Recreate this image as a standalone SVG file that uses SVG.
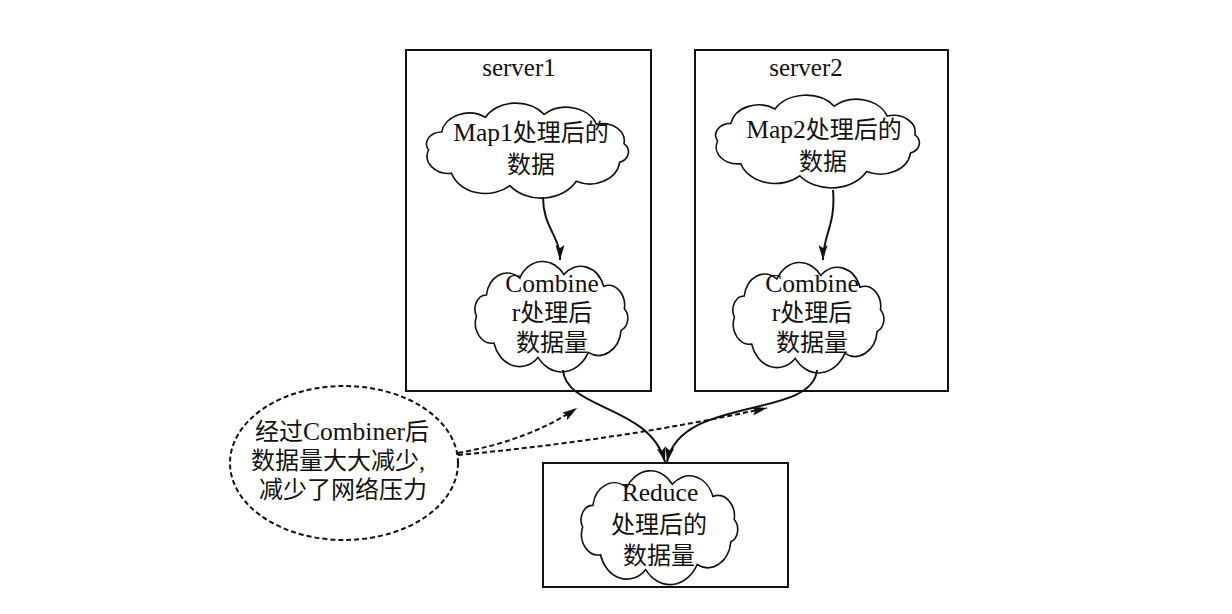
<svg xmlns="http://www.w3.org/2000/svg" width="1232" height="614" viewBox="0 0 1232 614">
<style>
.box{fill:none;stroke:#111;stroke-width:2}
.cloud{fill:#fff;stroke:#111;stroke-width:1.6}
.t{font-family:"Liberation Serif","Noto Sans CJK SC",serif;font-size:24px;fill:#111;text-anchor:middle}
.l{font-size:25.5px}
.lbl{font-family:"Liberation Serif","Noto Sans CJK SC",serif;font-size:25px;fill:#111;text-anchor:middle}
.edge{fill:none;stroke:#111;stroke-width:2}
.dash{fill:none;stroke:#111;stroke-width:2;stroke-dasharray:5 3}
</style>
<defs>
<marker id="ah" markerUnits="userSpaceOnUse" markerWidth="16" markerHeight="10" refX="15" refY="4.5" orient="auto">
<path d="M0,0 L15,4.5 L0,9 L3,4.5 z" fill="#111"/>
</marker>
<path id="cl" vector-effect="non-scaling-stroke" d="M-92,0 A14,14 0 0 1 -79.7,-21 A26,26 0 0 1 -38.9,-38.1 A33,33 0 0 1 16,-41.4 A30,30 0 0 1 65,-29.7 A20,20 0 0 1 90.6,-7.3 A13,13 0 0 1 86.5,14.4 A28,28 0 0 1 46,36.4 A37,37 0 0 1 -16,41.4 A33,33 0 0 1 -70.5,27 A20,20 0 0 1 -92,0 Z"/>
</defs>
<rect width="1232" height="614" fill="#fff"/>

<g id="server1">
<rect class="box" x="406" y="50" width="245" height="341"/>
<text class="lbl" x="519" y="76">server1</text>
</g>
<g id="server2">
<rect class="box" x="695" y="50" width="253" height="341"/>
<text class="lbl" x="806" y="76">server2</text>
</g>
<g id="reduce-box">
<rect class="box" x="543" y="463" width="245" height="124"/>
</g>

<g id="map1">
<use href="#cl" class="cloud" transform="translate(527,150) scale(1.07,0.86)"/>
<text class="t" x="531" y="141"><tspan class="l">Map1</tspan>处理后的</text>
<text class="t" x="531" y="173">数据</text>
</g>
<g id="map2">
<use href="#cl" class="cloud" transform="translate(817,141) scale(1.08,0.84)"/>
<text class="t" x="824" y="138"><tspan class="l">Map2</tspan>处理后的</text>
<text class="t" x="823" y="170">数据</text>
</g>
<g id="combiner1">
<use href="#cl" class="cloud" transform="translate(551,316) scale(0.81,1.0)"/>
<text class="t l" x="552" y="292">Combine</text>
<text class="t" x="552" y="321"><tspan class="l">r</tspan>处理后</text>
<text class="t" x="552" y="351">数据量</text>
</g>
<g id="combiner2">
<use href="#cl" class="cloud" transform="translate(808,317) scale(0.8,1.0)"/>
<text class="t l" x="812" y="292">Combine</text>
<text class="t" x="812" y="321"><tspan class="l">r</tspan>处理后</text>
<text class="t" x="812" y="351">数据量</text>
</g>
<g id="reduce">
<use href="#cl" class="cloud" transform="translate(659,527) scale(0.83,1.03)"/>
<text class="t l" x="660" y="501">Reduce</text>
<text class="t" x="659" y="533">处理后的</text>
<text class="t" x="659" y="564">数据量</text>
</g>
<g id="note">
<ellipse cx="344" cy="463" rx="114" ry="77" fill="#fff" stroke="#111" stroke-width="2" stroke-dasharray="5 3"/>
<text class="t" x="342" y="440">经过<tspan class="l">Combiner</tspan>后</text>
<text class="t" x="338" y="469">数据量大大减少,</text>
<text class="t" x="343" y="498">减少了网络压力</text>
</g>

<g id="connectors">
<path class="edge" marker-end="url(#ah)" d="M543,197 C543,228 560,235 560,260"/>
<path class="edge" marker-end="url(#ah)" d="M833,190 C836,225 823,235 823,260"/>
<path class="edge" marker-end="url(#ah)" d="M563,370 C566,410 650,405 665,462"/>
<path class="edge" marker-end="url(#ah)" d="M817,370 C812,420 680,395 667,462"/>
<path class="dash" marker-end="url(#ah)" d="M458,453 Q530,440 577,408"/>
<path class="dash" marker-end="url(#ah)" d="M458,455 Q620,440 767,408"/>
</g>
</svg>
